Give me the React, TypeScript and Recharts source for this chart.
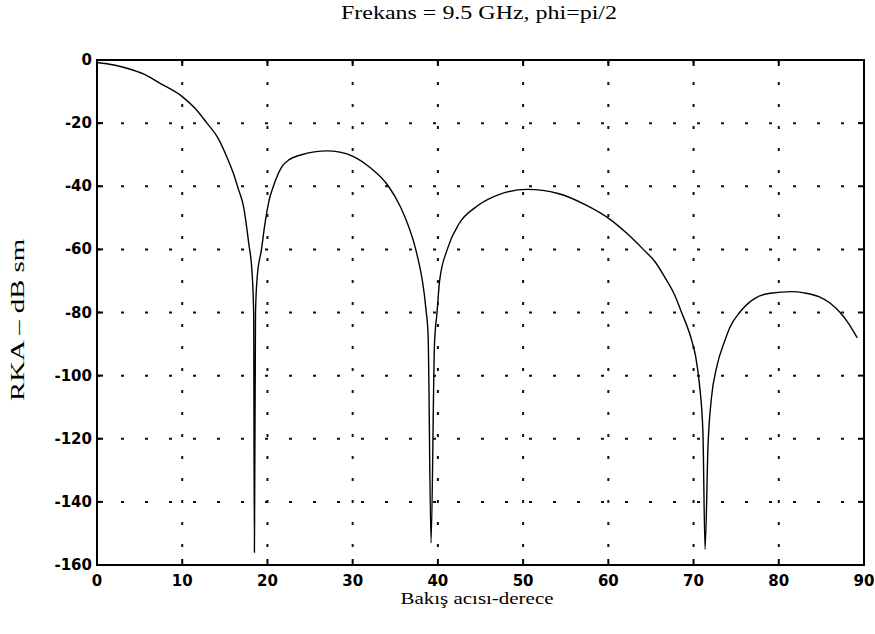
import React from "react"
import { LineChart, Line, XAxis, YAxis, CartesianGrid, ReferenceArea } from "recharts"

// bakış açısı (derece)
const angles = [
    0, 2, 3.5, 5.5, 7.4, 10, 11.5, 12.9, 14.1, 15.2, 16.0, 16.6, 17.2, 17.8, 18.2, 18.38, 18.47, 18.6, 18.8,
    19.3, 19.7, 20.2, 20.7, 21.7, 22.6, 23.9, 25.5, 27, 28.5, 30.1, 32, 34.2, 35.6, 36.6, 37.4, 38.6, 38.85,
    39.2, 39.6, 39.9, 40.2, 41.1, 42.5, 44.5, 47.0, 50.5, 54.1, 57.4, 60.2, 62.2, 64.1, 65.5, 66.6, 67.7,
    68.6, 69.8, 70.25, 70.7, 71.1, 71.35, 71.7, 72.1, 72.7, 73.7, 74.3, 75.4, 77.2, 79, 81.5, 83, 84.7, 86,
    87.2, 88.2, 89.2,
]

// RKA (dB sm)
const rcs = [
    -0.8, -1.6, -2.6, -4.5, -7.4, -11.6, -15.3, -20, -24.3, -30.5, -35.9, -41, -46.5, -58, -67.6, -80, -156, -80, -68.7,
    -60, -52, -44.4, -40, -33.8, -31.5, -30.1, -29.1, -28.8, -29.2, -30.6, -34, -40, -46.5, -53, -60, -79, -87,
    -153, -90, -80, -70, -60, -51.8, -46.5, -42.8, -41, -42.3, -46, -50.5, -55, -60, -64, -68.7, -74,
    -80, -89, -94, -103, -118, -155, -122, -107, -97.5, -88.7, -84.5, -80, -75.5, -73.9, -73.4, -73.8, -75, -77,
    -80, -83.5, -88,
]

const xTicks = [0, 10, 20, 30, 40, 50, 60, 70, 80, 90]
const yTicks = [0, -20, -40, -60, -80, -100, -120, -140, -160]

const data = angles.map((a, i) => ({ x: a, y: rcs[i] }))

const W = 875
const H = 634
const Y_AXIS_W = 40
const X_AXIS_H = 30
const margin = { top: 60, right: 11, bottom: 69 - X_AXIS_H, left: 97 - Y_AXIS_W }
const PLOT_LEFT = 97
const PLOT_RIGHT = W - margin.right
const PLOT_TOP = margin.top
const PLOT_BOTTOM = H - 69
const TICK = 6

const tickFont = { fontFamily: "DejaVu Sans", fontWeight: "bold" as const, fontSize: 15, fill: "#000" }

function XTick(props: any) {
    const { x, y, payload } = props
    const inner = payload.value !== 0 && payload.value !== 90
    return (
        <g>
            {inner && <line x1={x} x2={x} y1={PLOT_BOTTOM} y2={PLOT_BOTTOM - TICK} stroke="#000" strokeWidth={2} />}
            {inner && <line x1={x} x2={x} y1={PLOT_TOP} y2={PLOT_TOP + TICK} stroke="#000" strokeWidth={2} />}
            <text x={x} y={y} textAnchor="middle" dominantBaseline="hanging" {...tickFont}>
                {payload.value}
            </text>
        </g>
    )
}

function YTick(props: any) {
    const { x, y, payload } = props
    const inner = payload.value !== 0 && payload.value !== -160
    return (
        <g>
            {inner && <line x1={PLOT_LEFT} x2={PLOT_LEFT + TICK} y1={y} y2={y} stroke="#000" strokeWidth={2} />}
            {inner && <line x1={PLOT_RIGHT} x2={PLOT_RIGHT - TICK} y1={y} y2={y} stroke="#000" strokeWidth={2} />}
            <text x={x} y={y} textAnchor="end" dominantBaseline="central" {...tickFont}>
                {payload.value}
            </text>
        </g>
    )
}

export default function App() {
    return (
        <div style={{ position: "absolute", left: 0, top: 0, width: W, height: H, background: "#fff" }}>
            <LineChart width={W} height={H} data={data} margin={margin}>
                <CartesianGrid horizontal={true} vertical={false} stroke="#111" strokeWidth={2} strokeDasharray="3 21" />
                <CartesianGrid horizontal={false} vertical={true} stroke="#111" strokeWidth={2} strokeDasharray="3 19" />
                <XAxis
                    dataKey="x"
                    type="number"
                    domain={[0, 90]}
                    ticks={xTicks}
                    interval={0}
                    height={X_AXIS_H}
                    axisLine={false}
                    tickLine={false}
                    tickSize={0}
                    tickMargin={10}
                    tick={(p: any) => <XTick {...p} />}
                    allowDataOverflow
                />
                <YAxis
                    type="number"
                    domain={[-160, 0]}
                    ticks={yTicks}
                    interval={0}
                    width={Y_AXIS_W}
                    axisLine={false}
                    tickLine={false}
                    tickSize={0}
                    tickMargin={5}
                    tick={(p: any) => <YTick {...p} />}
                    allowDataOverflow
                />
                <Line
                    type="monotone"
                    dataKey="y"
                    stroke="#000"
                    strokeWidth={1.4}
                    dot={false}
                    isAnimationActive={false}
                />
                <ReferenceArea x1={0} x2={90} y1={-160} y2={0} fill="none" stroke="#000" strokeWidth={2} ifOverflow="visible" />
            </LineChart>
            <svg width={W} height={H} style={{ position: "absolute", left: 0, top: 0, pointerEvents: "none" }}>
                <text x={479} y={19} textAnchor="middle" fontFamily="Liberation Serif" fontSize={18} textLength={276} lengthAdjust="spacingAndGlyphs">
                    Frekans = 9.5 GHz, phi=pi/2
                </text>
                <text x={477} y={604} textAnchor="middle" fontFamily="Liberation Serif" fontSize={17} textLength={153} lengthAdjust="spacingAndGlyphs">
                    Bakış acısı-derece
                </text>
                <text
                    transform="translate(24, 320) rotate(-90)"
                    x={0}
                    y={0}
                    textAnchor="middle"
                    fontFamily="Liberation Serif"
                    fontSize={18}
                    textLength={162}
                    lengthAdjust="spacingAndGlyphs"
                >
                    RKA – dB sm
                </text>
            </svg>
        </div>
    )
}
